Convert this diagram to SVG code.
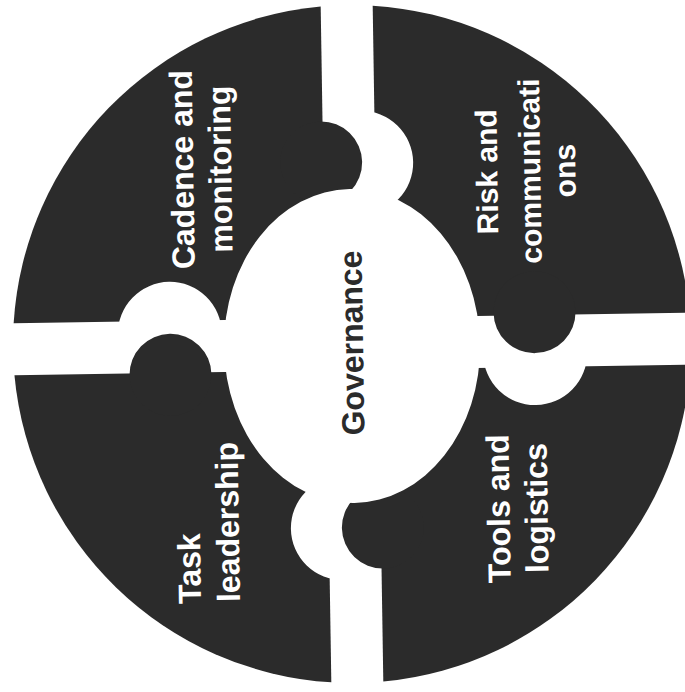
<svg xmlns="http://www.w3.org/2000/svg" width="685" height="692" viewBox="0 0 685 692">
  <style>
    .piece { fill: #2b2b2b; }
    .lbl { font-family: "Liberation Sans", Arial, sans-serif; font-weight: bold; font-size: 32px; fill: #ffffff; text-anchor: middle; }
    .lbl-s { font-size: 30px; }
    .center-lbl { font-family: "Liberation Sans", Arial, sans-serif; font-weight: bold; font-size: 32px; fill: #2b2b2b; text-anchor: middle; }
  </style>
  <defs>
    <mask id="m-cadence" maskUnits="userSpaceOnUse" x="-50" y="-50" width="800" height="800">
      <rect x="-50" y="-50" width="800" height="800" fill="#fff"/>
      <circle cx="170" cy="331" r="52" fill="#000"/>
    </mask>
    <mask id="m-risk" maskUnits="userSpaceOnUse" x="-50" y="-50" width="800" height="800">
      <rect x="-50" y="-50" width="800" height="800" fill="#fff"/>
      <circle cx="364" cy="163" r="52" fill="#000"/>
    </mask>
    <mask id="m-tools" maskUnits="userSpaceOnUse" x="-50" y="-50" width="800" height="800">
      <rect x="-50" y="-50" width="800" height="800" fill="#fff"/>
      <circle cx="535" cy="356" r="52" fill="#000"/>
    </mask>
    <mask id="m-task" maskUnits="userSpaceOnUse" x="-50" y="-50" width="800" height="800">
      <rect x="-50" y="-50" width="800" height="800" fill="#fff"/>
      <circle cx="340" cy="528" r="52" fill="#000"/>
    </mask>
  </defs>
  <rect width="685" height="692" fill="#ffffff"/>
  <g transform="rotate(-0.9 352 344)">
    <g id="cadence">
      <g class="piece" mask="url(#m-cadence)">
        <path d="M326,318 L326,6 A339,339 0 0 0 14,318 Z"/>
        <circle cx="324" cy="162" r="41"/>
      </g>
      <text class="lbl" transform="translate(196,167) rotate(-90)"><tspan x="0" y="0">Cadence and</tspan><tspan x="0" y="38">monitoring</tspan></text>
    </g>
    <g id="risk">
      <g class="piece" mask="url(#m-risk)">
        <path d="M378,318 L690,318 A339,339 0 0 0 378,6 Z"/>
        <circle cx="535" cy="315" r="41"/>
      </g>
      <text class="lbl lbl-s" transform="translate(500,174) rotate(-90)"><tspan x="0" y="0">Risk and</tspan><tspan x="0" y="43">communicati</tspan><tspan x="0" y="78">ons</tspan></text>
    </g>
    <g id="tools">
      <g class="piece" mask="url(#m-tools)">
        <path d="M378,370 L378,682 A339,339 0 0 0 690,370 Z"/>
        <circle cx="380" cy="528" r="41"/>
      </g>
      <text class="lbl" transform="translate(507,511) rotate(-90)"><tspan x="0" y="0">Tools and</tspan><tspan x="0" y="38">logistics</tspan></text>
    </g>
    <g id="task">
      <g class="piece" mask="url(#m-task)">
        <path d="M326,370 L14,370 A339,339 0 0 0 326,682 Z"/>
        <circle cx="170" cy="372" r="41"/>
      </g>
      <text class="lbl" transform="translate(197,566) rotate(-90)">Task</text>
      <text class="lbl" transform="translate(236,520) rotate(-90)">leadership</text>
    </g>
    <g id="governance">
      <ellipse cx="352" cy="346" rx="128" ry="157" fill="#ffffff"/>
      <text class="center-lbl" transform="translate(363,343) rotate(-90)">Governance</text>
    </g>
    <g id="connectors"></g>
  </g>
</svg>
